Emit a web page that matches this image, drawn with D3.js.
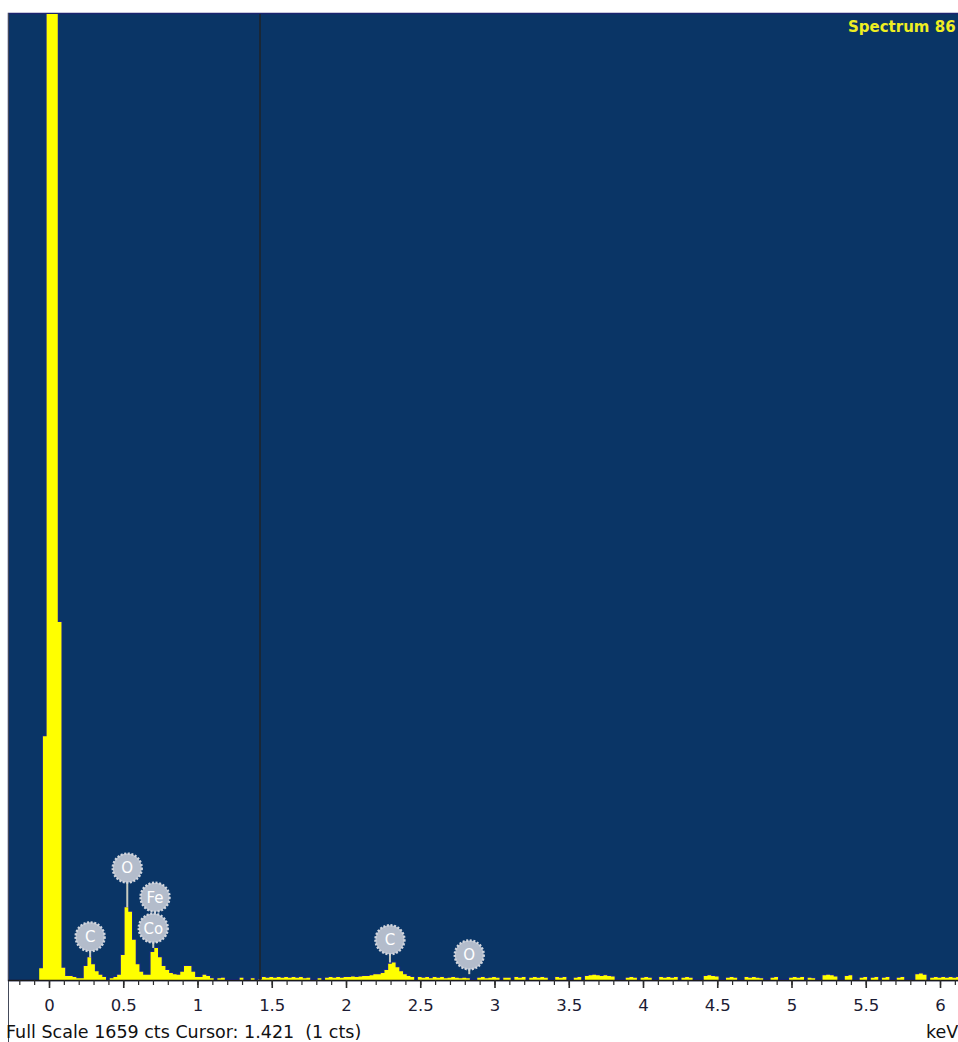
<!DOCTYPE html>
<html>
<head>
<meta charset="utf-8">
<script src="https://cdn.jsdelivr.net/npm/d3@7"></script>
<style>
  html, body { margin: 0; padding: 0; background: #ffffff; }
  svg { display: block; }
</style>
</head>
<body>
<svg id="chart" width="958" height="1042"></svg>
<script>
// EDS spectrum: counts per channel, channel i spans [channelStart + i*channelWidth, +channelWidth) keV
const channelStart = -0.066;
const channelWidth = 0.025;
const counts = [
  20, 418, 3050, 3380, 2790, 614, 21, 7, 7, 5, 3, 3,
  24, 39, 27, 15, 9, 5, 0, 3, 5, 9,
  43, 125, 117, 69, 27, 14, 9, 9, 48, 55,
  39, 24, 17, 12, 10, 9, 14, 24, 24, 14,
  5, 5, 9, 7, 3, 0, 3, 4, 0, 0,
  0, 0, 4, 0, 0, 3, 0, 1, 5, 4,
  5, 4, 5, 4, 5, 4, 5, 4, 5, 3,
  4, 0, 0, 3, 0, 4, 5, 4, 5, 4,
  5, 5, 6, 5, 6, 7, 7, 8, 10, 10,
  12, 17, 28, 30, 22, 15, 10, 7, 5, 0,
  5, 4, 5, 3, 5, 4, 5, 3, 4, 5,
  4, 3, 4, 3, 0, 0, 4, 5, 3, 4,
  5, 4, 0, 4, 4, 0, 5, 4, 5, 0,
  4, 5, 4, 5, 4, 0, 0, 5, 4, 5,
  0, 0, 4, 5, 0, 7, 8, 9, 8, 7,
  8, 7, 6, 0, 0, 0, 4, 5, 4, 0,
  4, 5, 4, 0, 0, 5, 4, 5, 4, 5,
  0, 4, 5, 4, 0, 0, 0, 7, 8, 7,
  6, 0, 0, 4, 5, 4, 0, 0, 5, 4,
  5, 4, 3, 0, 0, 4, 5, 0, 0, 0,
  4, 5, 4, 5, 0, 4, 3, 0, 0, 8,
  9, 8, 6, 0, 0, 7, 8, 0, 0, 4,
  5, 0, 4, 5, 0, 4, 5, 0, 0, 4,
  5, 0, 0, 0, 10, 11, 9, 0, 4, 5,
  4, 5, 4, 5, 4, 5, 4
];
const fullScale = 1659;          // cts at top of display
const cursorEnergy = 1.421;      // keV
const spectrumName = "Spectrum 86";

// Axis ticks (keV)
const majorTicks = [0, 0.5, 1, 1.5, 2, 2.5, 3, 3.5, 4, 4.5, 5, 5.5, 6];
const tickLabels = ["0", "0.5", "1", "1.5", "2", "2.5", "3", "3.5", "4", "4.5", "5", "5.5", "6"];
const minorTicks = d3.range(-2, 62).map(k => k / 10);

// Element markers: line energy (keV), peak counts at stem foot, counts level of the tag
const peakLabels   = ["C", "O", "Fe", "Co", "C", "O"];
const peakEnergies = [0.277, 0.527, 0.714, 0.702, 2.296, 2.830];
const peakCounts   = [39, 125, 89, 55, 30, 10];
const tagCounts    = [74, 192, 142, 89, 69, 43];

const W = 958, H = 1042;
const frame = { left: 8, top: 13, bottom: 980, right: 972 };
const FONT = "DejaVu Sans, Verdana, sans-serif";

const svg = d3.select("#chart");
const x = d3.scaleLinear().domain([0, 6]).range([49, 940]);
const y = d3.scaleLinear().domain([0, fullScale]).range([frame.bottom, frame.top]);

// plot background
svg.append("rect")
  .attr("x", frame.left + 0.5).attr("y", frame.top + 0.5)
  .attr("width", frame.right - frame.left).attr("height", frame.bottom - frame.top)
  .attr("fill", "#0a3566").attr("stroke", "#1c2470").attr("stroke-width", 1.5);

svg.append("defs").append("clipPath").attr("id", "plotClip")
  .append("rect")
  .attr("x", frame.left + 1).attr("y", frame.top + 1)
  .attr("width", frame.right - frame.left).attr("height", frame.bottom - frame.top - 1);

const plot = svg.append("g").attr("clip-path", "url(#plotClip)");

// channel histogram as a step area
const pts = counts.map((c, i) => ({ e: channelStart + i * channelWidth, c }));
pts.push({ e: channelStart + counts.length * channelWidth, c: counts[counts.length - 1] });

const line = d3.line().x(d => x(d.e)).y(d => y(d.c)).curve(d3.curveStepAfter);
const area = d3.area().x(d => x(d.e)).y0(y(0)).y1(d => y(d.c)).curve(d3.curveStepAfter);

plot.append("path").datum(pts)
  .attr("d", line).attr("fill", "none")
  .attr("stroke", "#1a2a8a").attr("stroke-width", 2);
plot.append("path").datum(pts)
  .attr("d", area).attr("fill", "#ffff00");

// cursor
plot.append("line")
  .attr("x1", x(cursorEnergy)).attr("x2", x(cursorEnergy))
  .attr("y1", frame.top).attr("y2", frame.bottom)
  .attr("stroke", "#222222").attr("stroke-width", 1.4);

// element tags
const tags = peakLabels.map((lab, i) => ({
  lab, e: peakEnergies[i], peak: peakCounts[i], level: tagCounts[i]
}));
const R = 14.5;
plot.selectAll("line.stem").data(tags).enter().append("line")
  .attr("class", "stem")
  .attr("x1", d => x(d.e)).attr("x2", d => x(d.e))
  .attr("y1", d => y(d.level) + R - 1).attr("y2", d => y(d.peak))
  .attr("stroke", "#c9ccc0").attr("stroke-width", 2);
const tg = plot.selectAll("g.tag").data(tags).enter().append("g")
  .attr("class", "tag")
  .attr("transform", d => `translate(${x(d.e)},${y(d.level)})`);
tg.append("circle").attr("r", R)
  .attr("fill", "#b3bccb")
  .attr("stroke", "#d2d6de").attr("stroke-width", 2.4)
  .attr("stroke-dasharray", "2,1.6");
tg.append("text")
  .attr("text-anchor", "middle").attr("dy", "0.36em")
  .attr("font-family", FONT)
  .attr("font-size", 15)
  .attr("fill", "#ffffff")
  .text(d => d.lab);

// spectrum name
svg.append("text")
  .attr("x", 848).attr("y", 32)
  .attr("font-family", FONT)
  .attr("font-size", 15)
  .attr("font-weight", "bold")
  .attr("fill", "#eeee22")
  .text(spectrumName);

// left rule running down past the axis
svg.append("line")
  .attr("x1", frame.left + 0.5).attr("x2", frame.left + 0.5)
  .attr("y1", frame.top).attr("y2", H)
  .attr("stroke", "#444a5a").attr("stroke-width", 1);

// energy axis
svg.append("line")
  .attr("x1", frame.left).attr("x2", W)
  .attr("y1", frame.bottom + 0.5).attr("y2", frame.bottom + 0.5)
  .attr("stroke", "#1a1a1a").attr("stroke-width", 1.5);

const minorAxis = d3.axisBottom(x).tickValues(minorTicks).tickSize(5).tickFormat("");
const majorAxis = d3.axisBottom(x).tickValues(majorTicks).tickSize(8).tickPadding(11)
  .tickFormat((d, i) => tickLabels[i]);

const gMinor = svg.append("g").attr("transform", `translate(0,${frame.bottom})`).call(minorAxis);
gMinor.select(".domain").remove();
gMinor.selectAll(".tick line").attr("stroke", "#2a2a2a").attr("stroke-width", 1.2);

const gMajor = svg.append("g").attr("transform", `translate(0,${frame.bottom})`).call(majorAxis);
gMajor.select(".domain").remove();
gMajor.selectAll(".tick line").attr("stroke", "#2a2a2a").attr("stroke-width", 1.6);
gMajor.selectAll(".tick text")
  .attr("font-family", FONT)
  .attr("font-size", 16.5)
  .attr("fill", "#1c1c34");

// status line
const cursorIdx = Math.floor((cursorEnergy - channelStart) / channelWidth);
svg.append("text")
  .attr("x", 6).attr("y", 1038)
  .attr("font-family", FONT)
  .attr("font-size", 17.5)
  .attr("fill", "#111111")
  .attr("xml:space", "preserve")
  .style("white-space", "pre")
  .text(`Full Scale ${fullScale} cts Cursor: ${cursorEnergy.toFixed(3)}  (${counts[cursorIdx]} cts)`);

svg.append("text")
  .attr("x", 926).attr("y", 1038)
  .attr("font-family", FONT)
  .attr("font-size", 17.5)
  .attr("fill", "#111111")
  .text("keV");
</script>
</body>
</html>
